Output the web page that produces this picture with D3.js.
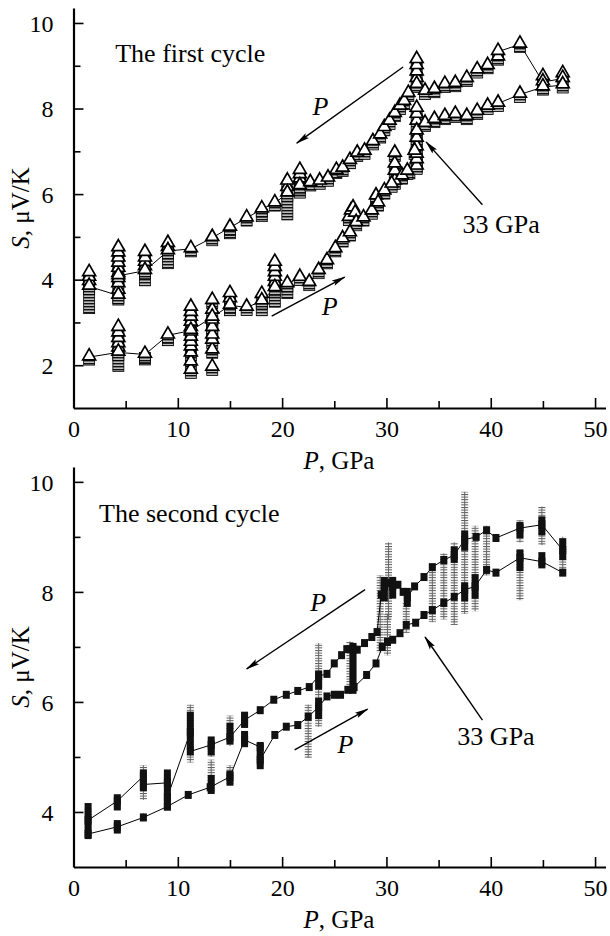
<!DOCTYPE html>
<html>
<head>
<meta charset="utf-8">
<script src="https://cdn.jsdelivr.net/npm/d3@7"></script>
<style>
  body { margin: 0; background: #fff; }
  svg text { font-family: "Liberation Serif", "Times New Roman", serif; fill: #000; }
</style>
</head>
<body>
<div id="chart"></div>
<script>
// ---- ticks ----
const xTicks = [0, 10, 20, 30, 40, 50];
const xMinor = [5, 15, 25, 35, 45];
const y1Ticks = [2, 4, 6, 8, 10];
const y1Minor = [3, 5, 7, 9];
const y2Ticks = [4, 6, 8, 10];
const y2Minor = [5, 7, 9];

// ---- first cycle: decompression (upper) line ----
const c1UpP = [1.5, 4.3, 4.3, 6.85, 9.05, 11.25, 13.3, 15, 16.6, 18.05, 19.3, 20.5, 21.7, 22.7, 23.6, 24.4, 25.2, 25.8, 26.5, 27.2, 27.9, 28.7, 29.4, 29.8, 30.3, 30.8, 31.3, 31.7, 32.1, 32.9, 33.7, 34.6, 35.6, 36.6, 37.7, 38.7, 39.7, 40.7, 42.8, 45, 46.9];
const c1UpS = [3.84, 3.63, 4.09, 4.21, 4.67, 4.72, 4.98, 5.22, 5.44, 5.65, 5.79, 6.02, 6.19, 6.26, 6.3, 6.37, 6.55, 6.6, 6.78, 6.95, 7.0, 7.22, 7.38, 7.55, 7.7, 7.88, 8.05, 8.16, 8.35, 8.56, 8.4, 8.44, 8.56, 8.58, 8.7, 8.9, 9.0, 9.33, 9.5, 8.62, 8.7];
// ---- first cycle: compression (lower) line ----
const c1LowP = [1.5, 4.3, 6.85, 9.05, 11.25, 13.3, 15, 16.6, 18.05, 19.3, 20.5, 21.7, 22.6, 23.5, 24.3, 25.1, 25.8, 26.5, 27.1, 27.8, 28.6, 29.2, 29.8, 30.5, 31.5, 32.0, 32.7, 32.9, 33.7, 34.6, 35.6, 36.6, 37.7, 38.7, 39.7, 40.7, 42.8, 45, 46.9];
const c1LowS = [2.19, 2.3, 2.25, 2.7, 2.81, 3.12, 3.4, 3.35, 3.5, 3.81, 3.9, 4.05, 3.93, 4.21, 4.44, 4.72, 4.95, 5.09, 5.33, 5.44, 5.6, 5.79, 6.07, 6.23, 6.42, 6.53, 7.0, 7.47, 7.65, 7.74, 7.81, 7.86, 7.81, 7.93, 8.05, 8.12, 8.33, 8.5, 8.55];
// repeated readings (triangles) at one pressure
const c1TriP = [1.5, 1.5, 1.5,
  4.3, 4.3, 4.3, 4.3, 4.3, 4.3, 4.3, 4.3, 4.3,
  4.3, 4.3, 4.3, 4.3, 4.3,
  6.85, 6.85, 6.85, 6.85, 9.05, 9.05,
  11.25, 11.25, 11.25, 11.25, 11.25, 11.25, 11.25, 11.25, 11.25, 11.25, 11.25, 11.25,
  13.3, 13.3, 13.3, 13.3, 13.3, 13.3, 13.3, 13.3,
  15, 15, 18.05, 19.3, 19.3, 19.3, 19.3, 19.3,
  20.5, 20.5, 21.7, 21.7, 21.7,
  26.4, 26.6, 26.8, 27.0, 29.0, 30.8, 30.8, 30.8, 30.8,
  32.9, 32.9, 32.9, 32.9, 32.9, 32.9, 32.9, 32.9, 32.9, 32.9, 32.9, 32.9,
  40.7, 45, 46.9];
const c1TriS = [3.95, 4.05, 4.16,
  3.75, 3.9, 4.02, 4.14, 4.26, 4.38, 4.5, 4.62, 4.74,
  2.4, 2.5, 2.62, 2.75, 2.88,
  4.3, 4.4, 4.5, 4.63, 4.75, 4.84,
  1.88, 2.07, 2.28, 2.42, 2.53, 2.65, 2.77, 2.88, 3.0, 3.12, 3.23, 3.35,
  1.95, 2.35, 2.58, 2.7, 2.88, 3.05, 3.28, 3.51,
  3.55, 3.67, 3.65, 3.93, 4.05, 4.16, 4.28, 4.4,
  6.15, 6.3, 6.35, 6.45, 6.55,
  5.45, 5.6, 5.67, 5.55, 5.95, 6.3, 6.53, 6.7, 6.95,
  6.65, 6.8, 6.93, 7.1, 7.3, 7.7, 7.86, 8.7, 8.85, 9.0, 9.14, 8.0,
  9.2, 8.74, 8.81];
// stacked square readings, as ranges
const c1SqP  = [1.5, 4.3, 4.3, 6.85, 6.85, 9.05, 9.05, 11.25, 13.3, 15, 15, 18.05, 18.05, 19.3, 20.5, 20.5, 21.7, 32.2, 32.9];
const c1SqLo = [3.3, 3.5, 1.95, 3.95, 2.1, 4.35, 2.55, 2.6, 2.8, 3.25, 5.05, 3.25, 5.45, 3.45, 5.49, 3.65, 6.0, 6.45, 6.6];
const c1SqHi = [3.8, 3.7, 2.35, 4.2, 2.3, 4.6, 2.7, 2.8, 3.05, 3.4, 5.2, 3.45, 5.65, 3.65, 5.95, 3.85, 6.2, 6.6, 7.5];

// ---- second cycle ----
const c2UpP = [1.4, 4.2, 6.7, 6.7, 9.0, 9.0, 11.2, 11.2, 13.2, 15, 16.4, 17.9, 19.2, 20.4, 21.5, 22.6, 23.5, 24.3, 25.0, 25.7, 26.2, 26.8, 27.2, 27.9, 28.6, 29.1, 29.5, 29.8, 30.2, 30.6, 31.1, 31.6, 32.0, 32.7, 33.6, 34.4, 35.5, 36.5, 37.5, 38.6, 39.6, 40.5, 42.8, 44.9, 46.9];
const c2UpS = [3.85, 4.2, 4.65, 4.5, 4.53, 4.27, 5.45, 5.1, 5.22, 5.36, 5.67, 5.85, 6.04, 6.13, 6.2, 6.27, 6.47, 6.51, 6.7, 6.85, 6.96, 6.95, 6.95, 7.07, 7.18, 7.27, 7.95, 8.1, 8.16, 8.1, 8.13, 8.0, 7.9, 8.1, 8.27, 8.45, 8.58, 8.67, 8.95, 9.0, 9.12, 8.98, 9.16, 9.22, 8.76];
const c2LowP = [1.4, 4.2, 6.7, 9.0, 11.0, 13.1, 15, 16.4, 17.9, 17.9, 19.3, 20.4, 21.5, 22.5, 23.5, 24.3, 25.0, 25.6, 26.3, 26.9, 28.1, 29.0, 29.6, 30.1, 30.6, 31.3, 31.9, 32.8, 33.6, 34.4, 35.5, 36.5, 37.5, 38.5, 39.6, 40.5, 42.8, 44.9, 46.9];
const c2LowS = [3.6, 3.73, 3.9, 4.1, 4.31, 4.45, 4.64, 5.31, 5.18, 4.95, 5.4, 5.55, 5.58, 5.73, 5.91, 6.1, 6.13, 6.13, 6.22, 6.27, 6.49, 6.7, 7.0, 7.09, 7.13, 7.25, 7.4, 7.44, 7.58, 7.67, 7.8, 7.91, 8.04, 8.1, 8.4, 8.35, 8.62, 8.55, 8.35];
// stacked black squares, as ranges
const c2BlkP  = [1.4, 4.2, 4.2, 6.7, 9.0, 11.2, 13.2, 13.2, 15, 15, 16.4, 16.4, 17.9, 23.5, 23.5, 26.8, 29.8, 30.6, 32.0, 36.5, 37.5, 37.5, 38.5, 42.8, 42.8, 44.9, 44.9, 46.9];
const c2BlkLo = [3.58, 4.1, 3.68, 4.45, 4.1, 5.2, 4.4, 5.1, 5.3, 4.55, 5.25, 5.6, 4.85, 5.76, 6.3, 6.22, 7.9, 7.95, 7.8, 8.6, 8.82, 7.9, 7.95, 9.05, 8.45, 9.1, 8.5, 8.65];
const c2BlkHi = [4.09, 4.25, 3.78, 4.7, 4.7, 5.75, 4.6, 5.3, 5.55, 4.68, 5.4, 5.75, 5.2, 6.0, 6.5, 7.0, 8.2, 8.2, 8.0, 8.75, 9.04, 8.1, 8.25, 9.2, 8.7, 9.3, 8.65, 8.9];
// spread of single readings (grey crosses), as ranges
const c2ErrP  = [1.4, 4.2, 4.2, 6.7, 6.7, 9.0, 11.2, 13.2, 13.2, 15, 15, 16.4, 16.4, 17.9, 22.5, 23.5, 26.5, 29.4, 30.2, 30.1, 31.9, 34.4, 35.5, 36.5, 37.5, 38.5, 39.6, 42.8, 42.8, 44.9, 46.9];
const c2ErrLo = [3.58, 4.05, 3.65, 4.22, 3.85, 4.1, 4.9, 4.35, 5.0, 4.5, 5.2, 5.55, 5.2, 4.82, 4.98, 5.55, 6.2, 6.9, 7.5, 6.85, 7.25, 7.45, 7.5, 7.4, 7.6, 7.65, 8.3, 7.85, 8.9, 8.85, 8.3];
const c2ErrHi = [4.09, 4.3, 3.82, 4.85, 3.98, 4.7, 5.95, 4.95, 5.3, 4.85, 5.75, 5.8, 5.45, 5.25, 5.95, 7.07, 7.1, 8.3, 8.9, 7.6, 7.8, 8.5, 8.7, 8.9, 9.82, 9.2, 9.2, 8.75, 9.3, 9.55, 9.0];

const W = 610, H = 936;
const svg = d3.select("#chart").append("svg").attr("width", W).attr("height", H);
const defs = svg.append("defs");

// arrow head
defs.append("marker").attr("id", "arrow")
  .attr("markerUnits", "userSpaceOnUse").attr("markerWidth", 16).attr("markerHeight", 10)
  .attr("refX", 13).attr("refY", 4).attr("orient", "auto")
  .append("path").attr("d", "M0,1L14,4L0,7L2.5,4Z").attr("fill", "#000");

// stripes = many overlapping open squares
const st = defs.append("pattern").attr("id", "stripes").attr("patternUnits", "userSpaceOnUse")
  .attr("width", 20).attr("height", 3);
st.append("rect").attr("width", 20).attr("height", 3).attr("fill", "#bdbdbd");
st.append("rect").attr("width", 20).attr("height", 1.4).attr("fill", "#111");

// grey crosses stacked
const cr = defs.append("pattern").attr("id", "crosses").attr("patternUnits", "userSpaceOnUse")
  .attr("width", 20).attr("height", 2.6);
cr.append("rect").attr("width", 20).attr("height", 1).attr("fill", "#555");

const x = d3.scaleLinear().domain([0, 51]).range([73.5, 605.5]);

function drawAxes(g, y, major, minor) {
  const fs = "24px";
  const xa = g.append("g").attr("transform", `translate(0,${y.range()[0]})`)
    .call(d3.axisBottom(x).tickValues(xTicks).tickSizeInner(-10).tickSizeOuter(0).tickPadding(12));
  g.append("g").attr("transform", `translate(0,${y.range()[0]})`)
    .call(d3.axisBottom(x).tickValues(xMinor).tickSizeInner(-7).tickSizeOuter(0).tickFormat(""))
    .select(".domain").remove();
  const ya = g.append("g").attr("transform", `translate(${x(0)},0)`)
    .call(d3.axisLeft(y).tickValues(major).tickSizeInner(-10).tickSizeOuter(0).tickPadding(20));
  g.append("g").attr("transform", `translate(${x(0)},0)`)
    .call(d3.axisLeft(y).tickValues(minor).tickSizeInner(-7).tickSizeOuter(0).tickFormat(""))
    .select(".domain").remove();
  g.selectAll(".tick line").attr("stroke", "#000").attr("stroke-width", 1.6);
  g.selectAll(".domain").attr("stroke", "#000").attr("stroke-width", 2.2);
  xa.selectAll("text").style("font-size", fs).style("font-family", "Liberation Serif");
  ya.selectAll("text").style("font-size", fs).style("font-family", "Liberation Serif").attr("dy", "0.34em");

  // axis titles
  const xt = g.append("text").attr("x", 339).attr("y", y.range()[0] + 61)
    .attr("text-anchor", "middle").style("font-size", "25px");
  xt.append("tspan").style("font-style", "italic").text("P");
  xt.append("tspan").text(", GPa");

  const cy = (y.range()[0] + y.range()[1]) / 2;
  const yt = g.append("text").attr("transform", `translate(29,${cy}) rotate(-90)`)
    .attr("text-anchor", "middle").style("font-size", "25px");
  yt.append("tspan").style("font-style", "italic").text("S");
  yt.append("tspan").text(", μV/K");
}

function arrow(g, y, p0, s0, p1, s1) {
  g.append("line").attr("x1", x(p0)).attr("y1", y(s0)).attr("x2", x(p1)).attr("y2", y(s1))
    .attr("stroke", "#000").attr("stroke-width", 1.4).attr("marker-end", "url(#arrow)");
}
function label(g, y, p, s, parts) {
  const t = g.append("text").attr("x", x(p)).attr("y", y(s)).style("font-size", "26px");
  parts.forEach(([txt, it]) => t.append("tspan").style("font-style", it ? "italic" : "normal").text(txt));
}

const lineGen = y => d3.line().x(d => x(d[0])).y(d => y(d[1]));
const zip = (a, b) => a.map((v, i) => [v, b[i]]);

// ================= first cycle =================
const y1 = d3.scaleLinear().domain([1, 10.35]).range([408, 8]);
const g1 = svg.append("g");

[zip(c1UpP, c1UpS), zip(c1LowP, c1LowS)].forEach(pts => {
  g1.append("path").datum(pts).attr("d", lineGen(y1))
    .attr("fill", "none").attr("stroke", "#000").attr("stroke-width", 1);
});

// square ranges
g1.selectAll(".sqr").data(c1SqP.map((p, i) => ({ p, lo: c1SqLo[i], hi: c1SqHi[i] })))
  .enter().append("rect")
  .attr("x", d => x(d.p) - 5.5).attr("width", 11)
  .attr("y", d => y1(d.hi)).attr("height", d => y1(d.lo) - y1(d.hi) + 4)
  .attr("fill", "url(#stripes)").attr("stroke", "#000").attr("stroke-width", 0.8);

const tri = [...zip(c1TriP, c1TriS), ...zip(c1UpP, c1UpS), ...zip(c1LowP, c1LowS)];
// square under each triangle
g1.selectAll(".sq").data(tri).enter().append("rect")
  .attr("x", d => x(d[0]) - 5.5).attr("y", d => y1(d[1]) + 1).attr("width", 11).attr("height", 7)
  .attr("fill", "url(#stripes)").attr("stroke", "#000").attr("stroke-width", 0.8);
g1.selectAll(".tri").data(tri).enter().append("path")
  .attr("d", d3.symbol(d3.symbolTriangle, 72))
  .attr("transform", d => `translate(${x(d[0])},${y1(d[1]) - 1})`)
  .attr("fill", "#fff").attr("stroke", "#000").attr("stroke-width", 1.7);

drawAxes(g1, y1, y1Ticks, y1Minor);
label(g1, y1, 4.0, 9.09, [["The first cycle", false]]);
label(g1, y1, 22.9, 7.85, [["P", true]]);
arrow(g1, y1, 31.6, 8.97, 21.4, 7.19);
label(g1, y1, 37.3, 5.09, [["33 GPa", false]]);
arrow(g1, y1, 39.2, 5.75, 33.8, 7.22);
label(g1, y1, 23.8, 3.17, [["P", true]]);
arrow(g1, y1, 19.0, 3.15, 26.0, 4.06);

// ================= second cycle =================
const y2 = d3.scaleLinear().domain([3, 10.27]).range([867, 467]);
const g2 = svg.append("g");

const errs = c2ErrP.map((p, i) => ({ p, lo: c2ErrLo[i], hi: c2ErrHi[i] }));
g2.selectAll(".err").data(errs).enter().append("rect")
  .attr("x", d => x(d.p) - 3.5).attr("width", 7)
  .attr("y", d => y2(d.hi)).attr("height", d => y2(d.lo) - y2(d.hi))
  .attr("fill", "url(#crosses)");
g2.selectAll(".errv").data(errs).enter().append("line")
  .attr("x1", d => x(d.p)).attr("x2", d => x(d.p))
  .attr("y1", d => y2(d.hi)).attr("y2", d => y2(d.lo))
  .attr("stroke", "#666").attr("stroke-width", 1);

[zip(c2UpP, c2UpS), zip(c2LowP, c2LowS)].forEach(pts => {
  g2.append("path").datum(pts).attr("d", lineGen(y2))
    .attr("fill", "none").attr("stroke", "#000").attr("stroke-width", 1);
});

g2.selectAll(".blk").data(c2BlkP.map((p, i) => ({ p, lo: c2BlkLo[i], hi: c2BlkHi[i] })))
  .enter().append("rect")
  .attr("x", d => x(d.p) - 3.5).attr("width", 7)
  .attr("y", d => y2(d.hi) - 4).attr("height", d => y2(d.lo) - y2(d.hi) + 8)
  .attr("fill", "#111");
g2.selectAll(".pt").data([...zip(c2UpP, c2UpS), ...zip(c2LowP, c2LowS)]).enter().append("rect")
  .attr("x", d => x(d[0]) - 3.5).attr("y", d => y2(d[1]) - 4).attr("width", 7).attr("height", 8)
  .attr("fill", "#111");

drawAxes(g2, y2, y2Ticks, y2Minor);
label(g2, y2, 2.45, 9.27, [["The second cycle", false]]);
label(g2, y2, 22.7, 7.65, [["P", true]]);
arrow(g2, y2, 27.95, 8.04, 16.6, 6.6);
label(g2, y2, 36.8, 5.22, [["33 GPa", false]]);
arrow(g2, y2, 39.2, 5.67, 33.7, 7.18);
label(g2, y2, 25.3, 5.07, [["P", true]]);
arrow(g2, y2, 21.2, 5.13, 28.2, 5.87);
</script>
</body>
</html>
